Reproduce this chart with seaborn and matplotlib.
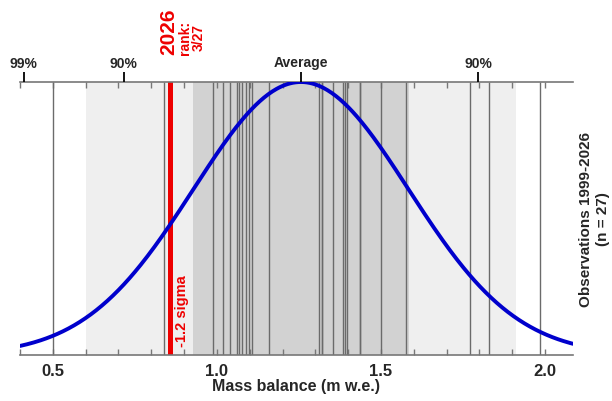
import numpy as np
import pandas as pd
import seaborn as sns
import matplotlib.pyplot as plt
from matplotlib.ticker import MultipleLocator, NullLocator

# annual mass balance observations (m w.e.)
obs = [0.50, 0.84, 0.988, 1.019, 1.041, 1.061, 1.066, 1.077, 1.09, 1.098, 1.106, 1.159,
       1.31, 1.32, 1.32, 1.355, 1.385, 1.39, 1.397, 1.435, 1.435, 1.50, 1.575,
       1.77, 1.83, 1.985]
year_now = 2026
value_now = 0.857
rank_now = '3/27'
sigma_label = '-1.2 sigma'
mu = 1.256
sigma = 0.328
top_z = [-2.576, -1.645, 0.0, 1.645]
top_labels = ['99%', '90%', 'Average', '90%']
side_label = 'Observations 1999-2026\n(n = 27)'

sns.set_style('white')
plt.rcParams['font.family'] = ['Liberation Sans', 'DejaVu Sans']
plt.rcParams['font.weight'] = 'bold'

fig = plt.figure(figsize=(6.12, 4.02), dpi=100)
ax = fig.add_axes([20/612, 1-356/402, 553/612, 273/402])
xmin, xmax = 0.4, 2.085

# +-2 sigma and +-1 sigma bands
ax.axvspan(mu - 2*sigma, mu + 2*sigma, color='#efefef', lw=0, zorder=0)
ax.axvspan(mu - sigma, mu + sigma, color='#d2d2d2', lw=0, zorder=0)

# one line per year
ax.vlines(obs, 0, 1, transform=ax.get_xaxis_transform(), color='#6b6b6b', lw=1.0, zorder=1)
ax.axvline(value_now, color='#ee0000', lw=3.6, zorder=2)

# fitted normal curve, scaled to peak at 1
xs = np.linspace(xmin, xmax, 400)
curve = pd.DataFrame({'x': xs, 'y': np.exp(-0.5*((xs - mu)/sigma)**2)})
sns.lineplot(data=curve, x='x', y='y', ax=ax, color='#0000cc', lw=2.8, zorder=3)

ax.set_xlim(xmin, xmax)
ax.set_ylim(0, 1.0)
ax.set_yticks([])
ax.set_ylabel('')
ax.xaxis.set_major_locator(MultipleLocator(0.5))
ax.xaxis.set_minor_locator(MultipleLocator(0.1))
ax.xaxis.set_major_formatter(plt.FormatStrFormatter('%.1f'))
ax.set_xlabel('Mass balance (m w.e.)', fontsize=11.5, fontweight='bold', labelpad=0)
for s in ['left', 'right']:
    ax.spines[s].set_visible(False)
for s in ['top', 'bottom']:
    ax.spines[s].set_color('#777777')
    ax.spines[s].set_linewidth(1.2)

# percentile ticks on top
ax2 = ax.twiny()
ax2.set_xlim(xmin, xmax)
ax2.set_xticks([mu + z*sigma for z in top_z], top_labels)
ax2.xaxis.set_minor_locator(NullLocator())
ax2.tick_params(axis='x', direction='out', length=7, width=1.3, pad=2,
                labelsize=10, color='black')
for s in ax2.spines.values():
    s.set_visible(False)

ax.tick_params(axis='x', which='both', direction='in', length=4, width=1,
               color='#777777', top=True, bottom=True, labelsize=12, pad=5.5)

# annotations
xt = ax.get_xaxis_transform()
ax.text(0.854, (356-55)/273, str(year_now), transform=xt, rotation=90,
        ha='center', va='bottom', color='#ee0000', fontsize=15, fontweight='bold')
ax.text(0.924, (356-55)/273, 'rank:\n' + rank_now, transform=xt, rotation=90,
        ha='center', va='bottom', color='#ee0000', fontsize=10, fontweight='bold',
        linespacing=1.0)
ax.text(0.894, (356-347)/273, sigma_label, transform=xt, rotation=90,
        ha='center', va='bottom', color='#ee0000', fontsize=10.5, fontweight='bold')
ax.text(1.039, 0.5, side_label, transform=ax.transAxes, rotation=90,
        ha='center', va='center', fontsize=11, fontweight='bold',
        multialignment='center')

fig.savefig('out.png', dpi=100)
